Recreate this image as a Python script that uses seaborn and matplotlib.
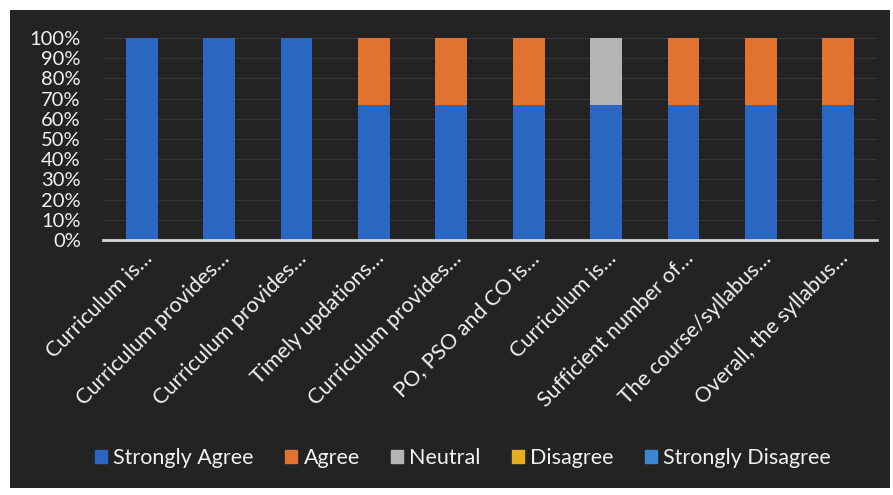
import matplotlib
matplotlib.use("Agg")
import matplotlib.pyplot as plt
import matplotlib.patches as mpatches
import seaborn as sns
import numpy as np

# Survey items (truncated as they appear on the axis)
items = [
    "Curriculum is…",
    "Curriculum provides…",
    "Curriculum provides…",
    "Timely updations…",
    "Curriculum provides…",
    "PO, PSO and CO is…",
    "Curriculum is…",
    "Sufficient number of…",
    "The course/syllabus…",
    "Overall, the syllabus…",
]

# Share of responses per item (%)
strongly_agree = [100, 100, 100, 66.67, 66.67, 66.67, 66.67, 66.67, 66.67, 66.67]
agree = [0, 0, 0, 33.33, 33.33, 33.33, 0, 33.33, 33.33, 33.33]
neutral = [0, 0, 0, 0, 0, 0, 33.33, 0, 0, 0]
disagree = [0, 0, 0, 0, 0, 0, 0, 0, 0, 0]
strongly_disagree = [0, 0, 0, 0, 0, 0, 0, 0, 0, 0]

series_names = ["Strongly Agree", "Agree", "Neutral", "Disagree", "Strongly Disagree"]
series_values = [strongly_agree, agree, neutral, disagree, strongly_disagree]
series_colors = ["#2a66c2", "#e2722f", "#b4b4b4", "#e8ad1c", "#3b86d0"]

y_ticks = list(range(0, 101, 10))
y_tick_labels = [f"{v}%" for v in y_ticks]

BG = "#232323"
TEXT = "#f2f2f2"

sns.set_theme(style="dark")
plt.rcParams["font.family"] = ["Lato", "DejaVu Sans"]

fig = plt.figure(figsize=(8.93, 4.95), dpi=100)
fig.patch.set_facecolor("white")
# dark chart panel
fig.add_artist(mpatches.Rectangle((10 / 893, 7 / 495), 880 / 893, 478 / 495,
                                  transform=fig.transFigure, facecolor=BG,
                                  edgecolor="none", zorder=0))

ax = fig.add_axes([103 / 893, 1 - 240 / 495, 774 / 893, 202 / 495])
ax.set_facecolor(BG)

positions = list(range(len(items)))
bottom = np.zeros(len(items))
for name, vals, col in zip(series_names, series_values, series_colors):
    vals = np.asarray(vals, dtype=float)
    sns.barplot(x=positions, y=vals, bottom=bottom, color=col, width=0.41,
                ax=ax, label=name, saturation=1, linewidth=0, edgecolor="none",
                zorder=3)
    bottom = bottom + vals

ax.set_xlim(-0.5, len(items) - 0.5)
ax.set_ylim(0, 100)
ax.set_yticks(y_ticks)
ax.set_yticklabels(y_tick_labels, color=TEXT, fontsize=14.5)
ax.set_xticks(positions)
ax.set_xticklabels(items, rotation=45, ha="right", rotation_mode="anchor",
                   color=TEXT, fontsize=15.5)
ax.tick_params(axis="y", length=0, pad=16)
ax.tick_params(axis="x", length=0, pad=6)
ax.set_xlabel("")
ax.set_ylabel("")

ax.yaxis.grid(True, color="#363636", linewidth=0.8, zorder=0)
ax.xaxis.grid(False)
for s in ["top", "right", "left"]:
    ax.spines[s].set_visible(False)
ax.spines["bottom"].set_color("#d6d6d6")
ax.spines["bottom"].set_linewidth(2)
ax.spines["bottom"].set_zorder(5)

if ax.get_legend():
    ax.get_legend().remove()
handles = [mpatches.Patch(color=c, label=n) for n, c in zip(series_names, series_colors)]
leg = fig.legend(handles=handles, loc="center", bbox_to_anchor=(463 / 893, 1 - 458 / 495),
                 ncol=5, frameon=False, fontsize=15.5, handlelength=0.55,
                 handleheight=0.6, handletextpad=0.3, columnspacing=1.45)
for t in leg.get_texts():
    t.set_color(TEXT)

fig.savefig("out.png", dpi=100, facecolor=fig.get_facecolor())
